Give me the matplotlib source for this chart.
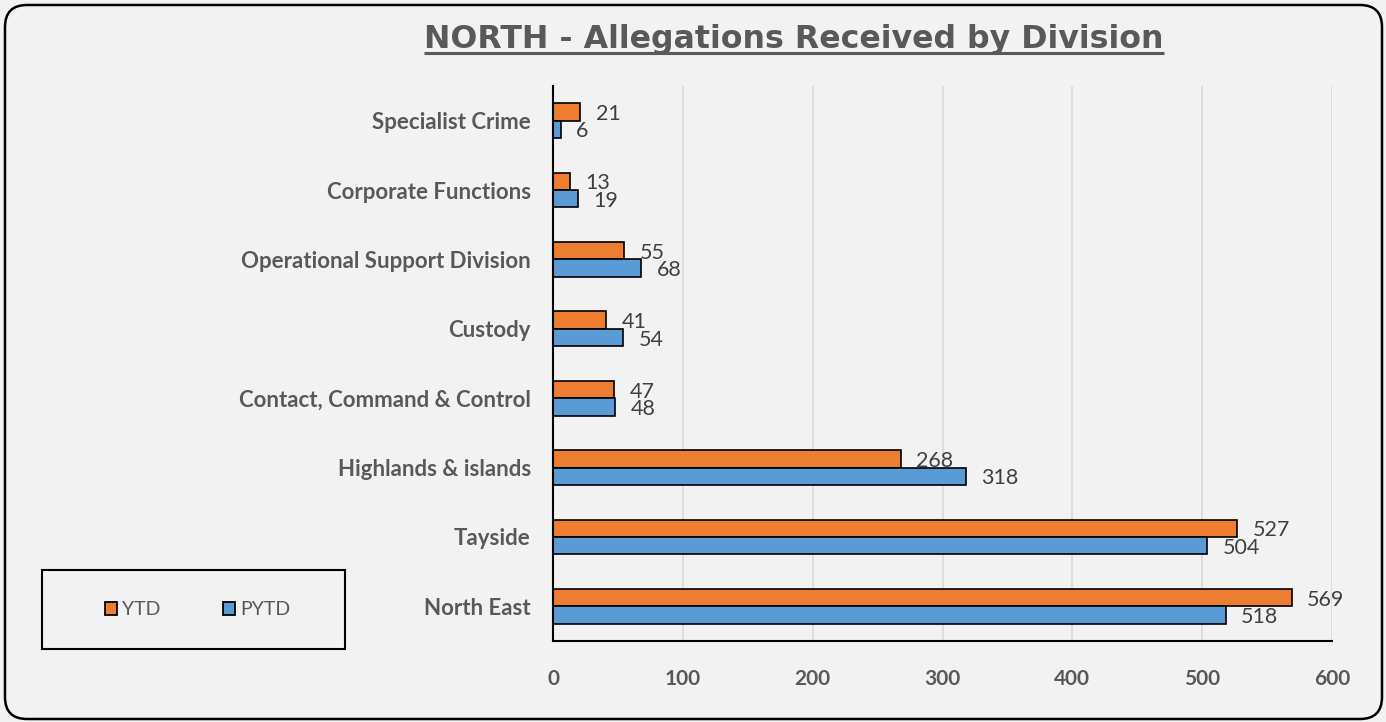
import matplotlib
matplotlib.use("Agg")
import matplotlib.pyplot as plt
from matplotlib.patches import FancyBboxPatch, Rectangle, Patch
from matplotlib.lines import Line2D
from matplotlib.transforms import IdentityTransform
import numpy as np

# Divisions, listed bottom to top as drawn
divisions = ["North East", "Tayside", "Highlands & islands",
             "Contact, Command & Control", "Custody",
             "Operational Support Division", "Corporate Functions",
             "Specialist Crime"]
ytd = [569, 527, 268, 47, 41, 55, 13, 21]
pytd = [518, 504, 318, 48, 54, 68, 19, 6]
x_ticks = [0, 100, 200, 300, 400, 500, 600]
title = "NORTH - Allegations Received by Division"

BG = "#f2f2f2"
TXT = "#595959"
ORANGE = "#ED7D31"
BLUE = "#5B9BD5"

W, H, DPI = 1386, 722, 100
fig = plt.figure(figsize=(W / DPI, H / DPI), dpi=DPI, facecolor=BG)

ax = fig.add_axes([553 / W, 1 - 641 / H, (1332 - 553) / W, (641 - 86) / H])
ax.set_facecolor(BG)

y = np.arange(len(divisions))
bh = 0.25
ax.barh(y + bh / 2, ytd, height=bh, color=ORANGE, edgecolor="black",
        linewidth=1.2, zorder=3, label="YTD")
ax.barh(y - bh / 2, pytd, height=bh, color=BLUE, edgecolor="black",
        linewidth=1.2, zorder=3, label="PYTD")

# Value labels just past the end of each bar
for offs, vals in ((bh / 2, ytd), (-bh / 2, pytd)):
    for yi, v in zip(y, vals):
        ax.annotate(str(v), (v, yi + offs), xytext=(11, -1.5),
                    textcoords="offset points", va="center", ha="left",
                    fontsize=15.5, color="#404040", family="Lato", zorder=4)

ax.set_xlim(0, 600)
ax.set_ylim(-0.5, len(divisions) - 0.5)
ax.set_xticks(x_ticks)
ax.set_xticklabels([str(t) for t in x_ticks], fontsize=15, fontweight="bold",
                   color=TXT, family="Lato")
ax.set_yticks(y)
ax.set_yticklabels(divisions, fontsize=16, fontweight="bold", color=TXT,
                   family="Lato")
ax.tick_params(axis="both", length=0)
ax.tick_params(axis="x", pad=20)
ax.tick_params(axis="y", pad=16)
ax.grid(axis="x", color="#d9d9d9", linewidth=1.2, zorder=0)
for s in ("top", "right"):
    ax.spines[s].set_visible(False)
for s in ("left", "bottom"):
    ax.spines[s].set_color("black")
    ax.spines[s].set_linewidth(1.5)
    ax.spines[s].set_zorder(5)

# Title with underline
t = fig.text(794 / W, 1 - 48 / H, title, ha="center", va="baseline",
             fontsize=22.8, fontweight="bold", color=TXT, family="DejaVu Sans")
fig.canvas.draw()
bb = t.get_window_extent(fig.canvas.get_renderer())
uy = H - 53
fig.add_artist(Line2D([bb.x0, bb.x1], [uy, uy], transform=IdentityTransform(),
                      color=TXT, linewidth=2.2, solid_capstyle="butt"))

# Legend in its own framed box
lx0, lx1, ly0, ly1 = 42, 345, H - 649, H - 570
fig.add_artist(Rectangle((lx0, ly0), lx1 - lx0, ly1 - ly0, transform=IdentityTransform(),
                         facecolor="none", edgecolor="black", linewidth=1.5))
handles = [Patch(facecolor=ORANGE, edgecolor="black", linewidth=1.3, label="YTD"),
           Patch(facecolor=BLUE, edgecolor="black", linewidth=1.3, label="PYTD")]
fig.legend(handles=handles, loc="center",
           bbox_to_anchor=((lx0 + lx1) / 2 / W + 4 / W, (ly0 + ly1) / 2 / H),
           ncol=2, frameon=False, handlelength=0.65, handleheight=0.65,
           handletextpad=0.25, columnspacing=3.2,
           prop={"family": "Lato", "size": 14}, labelcolor=TXT)

# Rounded outer border
fig.add_artist(FancyBboxPatch((5, 3), W - 9, H - 8,
                              boxstyle="round,pad=0,rounding_size=22",
                              transform=IdentityTransform(), facecolor="none",
                              edgecolor="black", linewidth=1.8))

fig.savefig("out.png", dpi=DPI, facecolor=BG)
